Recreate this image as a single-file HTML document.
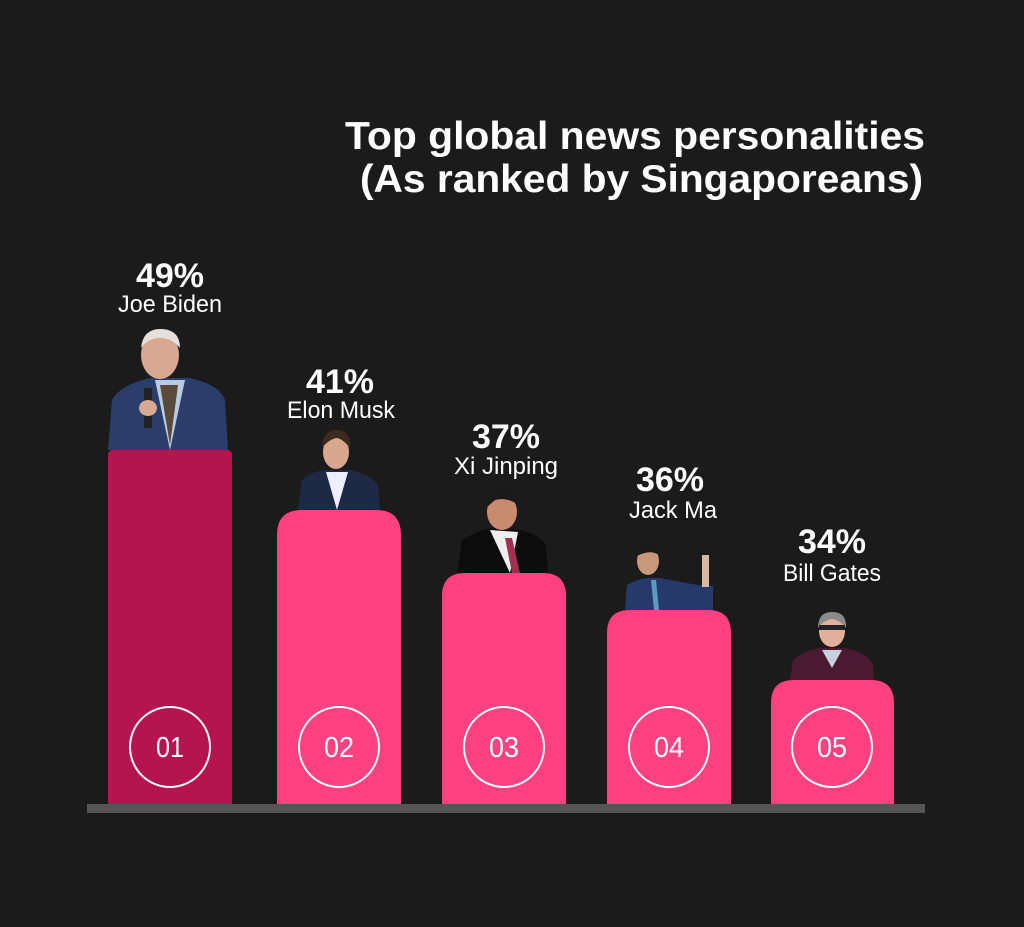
<!DOCTYPE html>
<html><head><meta charset="utf-8"><style>
html,body{margin:0;padding:0;background:#1b1b1b;}
svg{display:block}
.t{font-family:"Liberation Sans",sans-serif;font-weight:bold;fill:#fff}
.n{font-family:"Liberation Sans",sans-serif;fill:#fff}
</style></head><body>
<svg width="1024" height="927" viewBox="0 0 1024 927" xmlns="http://www.w3.org/2000/svg">
<rect width="1024" height="927" fill="#1b1b1b"/>
<text class="t" x="925" y="149" font-size="39" text-anchor="end" textLength="580" lengthAdjust="spacingAndGlyphs">Top global news personalities</text>
<text class="t" x="923" y="192" font-size="39" text-anchor="end" textLength="563" lengthAdjust="spacingAndGlyphs">(As ranked by Singaporeans)</text>

<g>
<path d="M108 450 L112 400 Q120 385 150 378 L190 378 Q220 385 225 400 L228 450 Z" fill="#2a3d6b"/>
<path d="M155 380 L170 450 L185 380 Z" fill="#b9cbe0"/>
<path d="M160 385 L170 445 L178 385 Z" fill="#5a4a3a"/>
<ellipse cx="160" cy="355" rx="19" ry="24" fill="#d9a890"/>
<path d="M141 348 Q143 328 162 329 Q180 330 180 348 Q172 338 160 338 Q148 338 141 348Z" fill="#e6e0dc"/>
<rect x="144" y="388" width="8" height="40" fill="#222"/>
<ellipse cx="148" cy="408" rx="9" ry="8" fill="#d9a890"/>
</g>
<g>
<path d="M298 510 L302 480 Q310 472 325 470 L350 470 Q370 474 378 485 L380 510 Z" fill="#1e2a45"/>
<path d="M326 472 L337 510 L348 472 Z" fill="#eef"/>
<ellipse cx="336" cy="452" rx="13" ry="17" fill="#d8a88e"/>
<path d="M322 448 Q322 430 337 430 Q352 431 350 448 Q342 438 336 438 Q328 440 322 448Z" fill="#3a2a20"/>
</g>
<g>
<path d="M457 573 L462 540 Q475 532 490 528 L520 530 Q540 535 546 545 L548 573 Z" fill="#0c0c0c"/>
<path d="M490 530 L510 573 L518 532 Z" fill="#eee"/>
<path d="M505 538 L512 573 L520 573 L512 538 Z" fill="#a03050"/>
<ellipse cx="502" cy="512" rx="15" ry="18" fill="#c98a70"/>
<path d="M486 508 Q487 490 503 490 Q519 491 518 505 Q508 497 495 500Z" fill="#1a1a1a"/>
</g>
<g>
<path d="M625 610 L627 585 Q640 578 648 578 L660 578 Q680 582 698 585 L713 586 L713 610 Z" fill="#253a6a"/>
<rect x="702" y="555" width="7" height="32" fill="#d8b8a0"/>
<path d="M651 580 L654 610 L659 610 L656 580 Z" fill="#5a9ac0"/>
<ellipse cx="648" cy="561" rx="11" ry="14" fill="#c8987a"/>
<path d="M637 556 Q638 543 649 543 Q660 544 659 555 Q650 549 637 556Z" fill="#1a1a1a"/>
</g>
<g>
<path d="M790 680 L793 660 Q805 650 820 648 L845 648 Q868 653 873 665 L874 680 Z" fill="#4a1a30"/>
<path d="M822 650 L832 668 L842 650 Z" fill="#c8d0dc"/>
<ellipse cx="832" cy="631" rx="13" ry="16" fill="#e0b09a"/>
<path d="M818 628 Q818 612 832 612 Q847 612 846 628 Q840 620 832 619 Q824 620 818 628Z" fill="#8a8a8a"/>
<rect x="819" y="625" width="26" height="5" fill="#222"/>
</g>

<path d="M108 804 L108 455 Q108 450 113 450 L227 450 Q232 450 232 455 L232 804 Z" fill="#b5144f"/>
<path d="M277 804 L277 535 Q277 510 302 510 L376 510 Q401 510 401 535 L401 804 Z" fill="#ff4181"/>
<path d="M442 804 L442 596 Q442 573 465 573 L543 573 Q566 573 566 596 L566 804 Z" fill="#ff4181"/>
<path d="M607 804 L607 633 Q607 610 630 610 L708 610 Q731 610 731 633 L731 804 Z" fill="#ff4181"/>
<path d="M771 804 L771 703 Q771 680 794 680 L871 680 Q894 680 894 703 L894 804 Z" fill="#ff4181"/>
<rect x="87" y="804" width="838" height="9" fill="#555"/>

<g fill="none" stroke="#fff" stroke-width="2">
<circle cx="170" cy="747" r="40"/><circle cx="339" cy="747" r="40"/><circle cx="504" cy="747" r="40"/><circle cx="669" cy="747" r="40"/><circle cx="832" cy="747" r="40"/>
</g>
<g class="n" font-size="29" text-anchor="middle">
<text x="170" y="757" textLength="28" lengthAdjust="spacingAndGlyphs">01</text><text x="339" y="757" textLength="30" lengthAdjust="spacingAndGlyphs">02</text><text x="504" y="757" textLength="30" lengthAdjust="spacingAndGlyphs">03</text><text x="669" y="757" textLength="30" lengthAdjust="spacingAndGlyphs">04</text><text x="832" y="757" textLength="30" lengthAdjust="spacingAndGlyphs">05</text>
</g>

<g class="t" font-size="34" text-anchor="middle">
<text x="170" y="287">49%</text><text x="340" y="393">41%</text><text x="506" y="448">37%</text><text x="670" y="491">36%</text><text x="832" y="553">34%</text>
</g>
<g class="n" font-size="24" text-anchor="middle">
<text x="170" y="312" textLength="104" lengthAdjust="spacingAndGlyphs">Joe Biden</text>
<text x="341" y="418" textLength="108" lengthAdjust="spacingAndGlyphs">Elon Musk</text>
<text x="506" y="474" textLength="104" lengthAdjust="spacingAndGlyphs">Xi Jinping</text>
<text x="673" y="518" textLength="88" lengthAdjust="spacingAndGlyphs">Jack Ma</text>
<text x="832" y="581" textLength="98" lengthAdjust="spacingAndGlyphs">Bill Gates</text>
</g>
</svg>
</body></html>
